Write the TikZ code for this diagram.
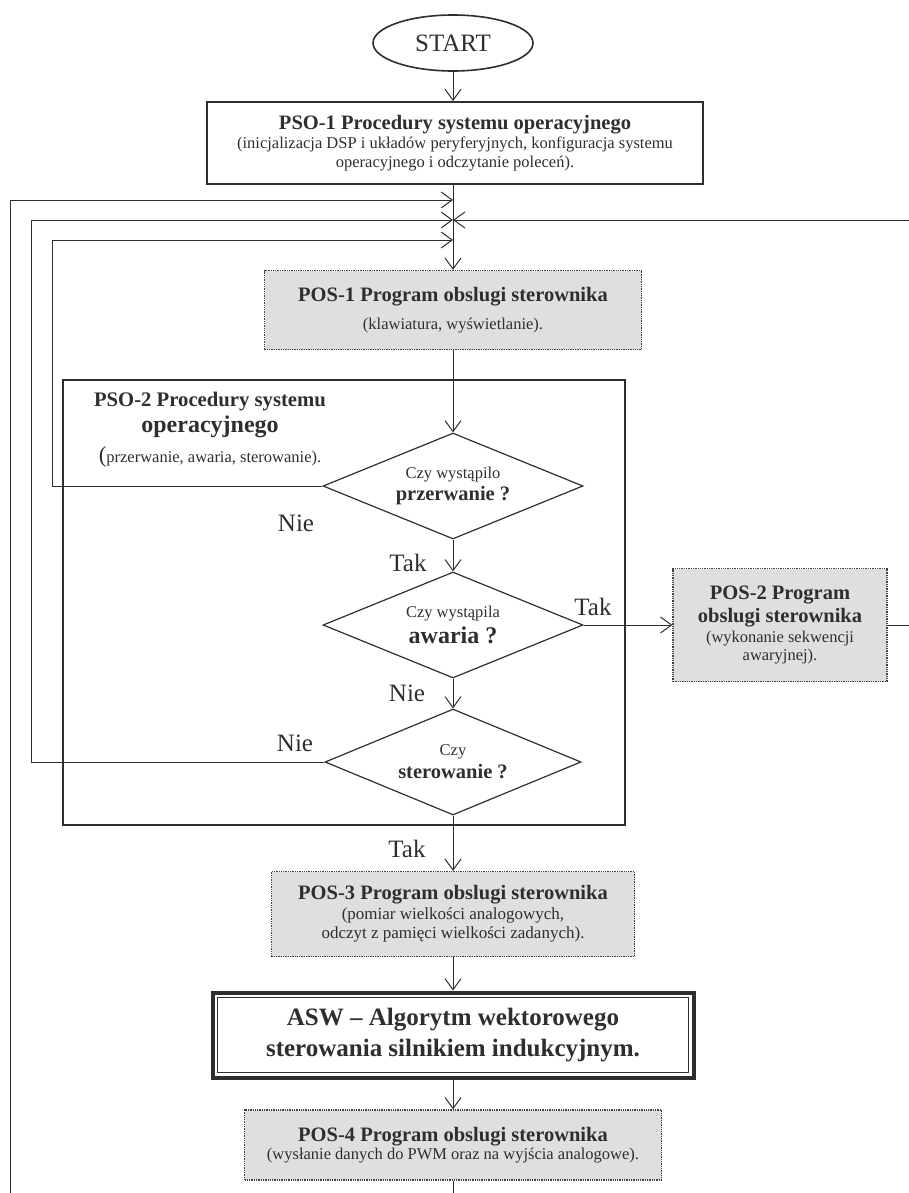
\documentclass[tikz,border=0pt]{standalone}
\usepackage{fontspec}
\setmainfont{Liberation Serif}
\usetikzlibrary{shapes.geometric,arrows.meta}

\newcommand\tytul{\fontsize{20.5}{24}\selectfont\bfseries}
\newcommand\opis{\fontsize{16.5}{18.5}\selectfont}
\newcommand\pytanie{\fontsize{16.5}{19}\selectfont}
\newcommand\pogrub{\fontsize{20.5}{24}\selectfont\bfseries}

\begin{document}
\begin{tikzpicture}[x=1pt,y=-1pt,line width=1pt,color=black!82,
  >={Straight Barb[length=11pt,width=16pt]},
  posbox/.style={draw=black!75,densely dotted,line width=1.3pt,fill=gray!25,
    align=center,font=\opis,inner sep=2pt},
  romb/.style={draw,diamond,aspect=2.45,inner sep=0pt,line width=1.2pt,
    minimum width=260,minimum height=106,align=center},
  napis/.style={font=\fontsize{25}{28}\selectfont}]
\useasboundingbox (0,0) rectangle (909,1193);
\clip (0,0) rectangle (909,1193);

\node[draw,line width=2pt,minimum width=562,minimum height=445] (PSO2) at (344,602) {};

\node[ellipse,draw,line width=1.6pt,minimum width=160,minimum height=56,
  font=\fontsize{25}{28}\selectfont] (ST) at (453,43) {START};

\node[draw,line width=1.8pt,minimum width=496,minimum height=82,align=center,
  font=\opis] (PSO1) at (455,143)
  {{\tytul PSO-1 Procedury systemu operacyjnego}\\[1pt]
   (inicjalizacja DSP i układów peryferyjnych, konfiguracja systemu\\
   operacyjnego i odczytanie poleceń).};

\node[posbox,minimum width=377,minimum height=79] (POS1) at (453,310)
  {{\tytul POS-1 Program obslugi sterownika}\\[10pt]
   (klawiatura, wyświetlanie).};

\node[align=center] (PSO2t) at (210,430)
  {{\fontsize{20.7}{25}\selectfont\bfseries PSO-2 Procedury systemu}\\[4pt]
   {\fontsize{24}{28}\selectfont\bfseries operacyjnego}\\[8pt]
   {\opis{\fontsize{23}{22}\selectfont(}przerwanie, awaria, sterowanie).}};

\node[romb] (D1) at (453,486)
  {{\pytanie Czy wystąpilo}\\[4pt]{\pogrub przerwanie ?}};
\node[romb] (D2) at (453,625)
  {{\pytanie Czy wystąpila}\\[4pt]{\fontsize{24}{26}\selectfont\bfseries awaria ?}};
\node[romb,minimum width=256] (D3) at (453,762)
  {{\pytanie Czy}\\[4pt]{\pogrub sterowanie ?}};

\node[posbox,minimum width=214,minimum height=113] (POS2) at (780,625)
  {{\tytul POS-2 Program}\\[4pt]{\tytul obslugi sterownika}\\[1pt]
   (wykonanie sekwencji\\awaryjnej).};

\node[posbox,minimum width=363,minimum height=85,font=\fontsize{17}{19}\selectfont]
  (POS3) at (453,914)
  {{\tytul POS-3 Program obslugi sterownika}\\[1pt]
   (pomiar wielkości analogowych,\\
   odczyt z pamięci wielkości zadanych).};

\node[draw,line width=4pt,minimum width=481,minimum height=85,align=center,
  font=\fontsize{25}{31}\selectfont\bfseries] (ASW) at (453,1035)
  {ASW -- Algorytm wektorowego\\sterowania silnikiem indukcyjnym.};
\draw ([shift={(7,7)}]ASW.north west) rectangle ([shift={(-7,-7)}]ASW.south east);

\node[posbox,minimum width=417,minimum height=70] (POS4) at (453,1145)
  {{\tytul POS-4 Program obslugi sterownika}\\
   (wysłanie danych do PWM oraz na wyjścia analogowe).};

\node[napis] (N1) at (296,523) {Nie};
\node[napis] (T1) at (408,563) {Tak};
\node[napis] (T2) at (593,607) {Tak};
\node[napis] (N2) at (407,693) {Nie};
\node[napis] (N3) at (295,743) {Nie};
\node[napis] (T3) at (407,849) {Tak};

\coordinate (W1) at (453,200);
\coordinate (W2) at (453,220);
\coordinate (W3) at (453,240);
\coordinate (L1) at (10,200);
\coordinate (L2) at (31,220);
\coordinate (L3) at (52,240);
\coordinate (R2) at (914,220);

\draw[->] (ST) -- (ST |- PSO1.north);
\draw[->] (PSO1.south -| POS1) -- (POS1);
\draw[->] (POS1) -- (D1);
\draw[->] (D1) -- (D2);
\draw[->] (D2) -- (D3);
\draw[->] (D2) -- (POS2);
\draw[->] (D3) -- (POS3);
\draw[->] (POS3) -- (ASW);
\draw[->] (ASW) -- (POS4);

\draw[->] (POS4.south) -- ++(0,40) -| (L1) -- (W1);
\draw[->] (D3.west) -| (L2) -- (W2);
\draw[->] (D1.west) -| (L3) -- (W3);
\draw[->] (POS2.east) -| (R2) -- (W2);
\end{tikzpicture}
\end{document}
